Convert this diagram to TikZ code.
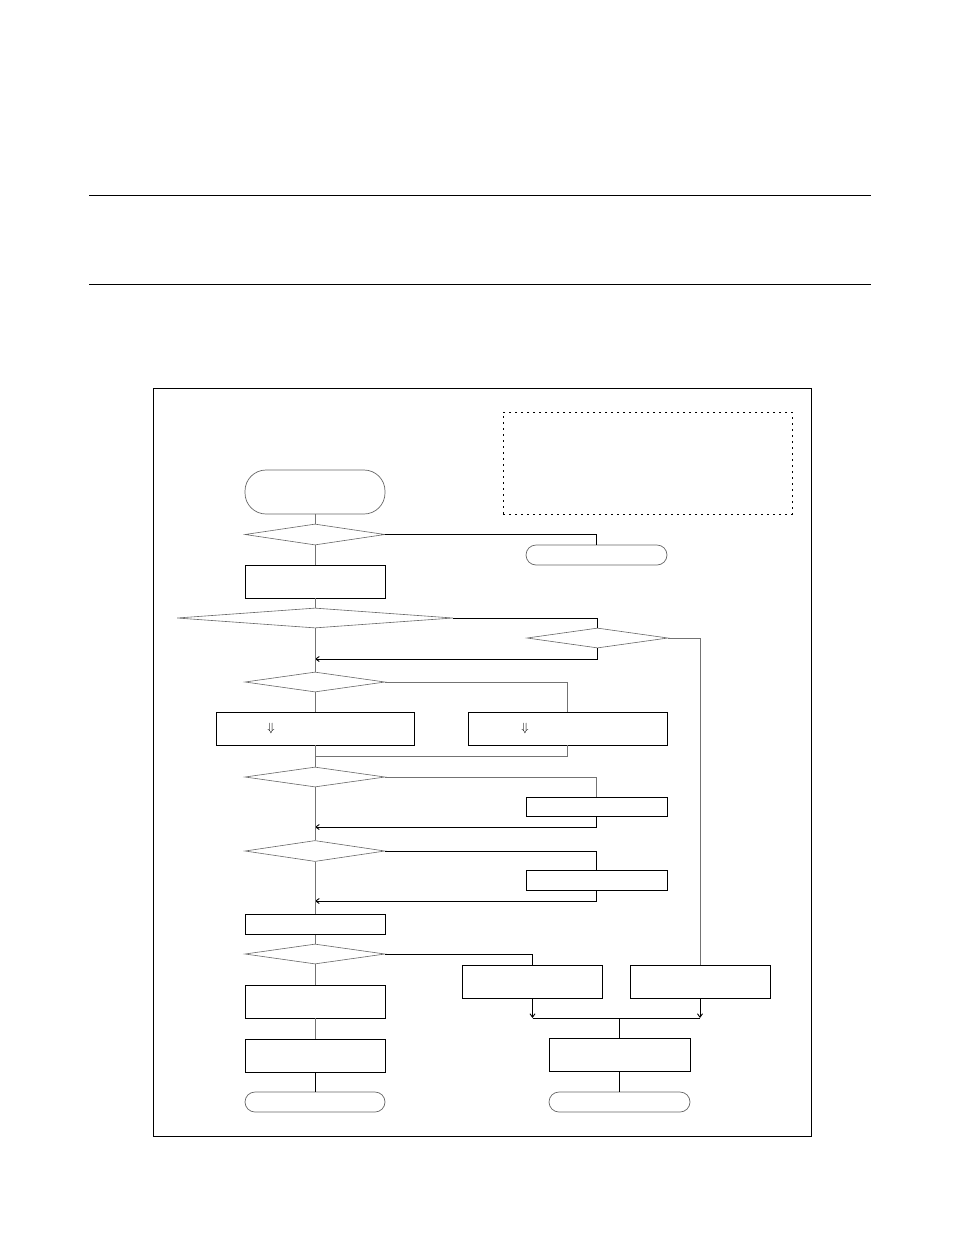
\documentclass[tikz,border=0pt]{standalone}
\usetikzlibrary{shapes.geometric,arrows.meta}
\begin{document}
\begin{tikzpicture}[x=1pt,y=-1pt,
  boxn/.style={draw=black,line width=0.9pt,rectangle,inner sep=0pt},
  termn/.style={draw=black!60,line width=0.7pt,rectangle,inner sep=0pt,rounded corners=10pt},
  decn/.style={draw=black!60,line width=0.6pt,diamond,inner sep=0pt},
  gline/.style={draw=black!55,line width=0.8pt},
  bline/.style={draw=black,line width=0.9pt},
  arr/.style={-{Straight Barb[length=3.5pt,width=5pt]}},
  rule/.style={draw=black,line width=0.8pt}]
\useasboundingbox[fill=white] (0,0) rectangle (954,1235);
% page rules and frame
\coordinate (r1a) at (89,195); \coordinate (r1b) at (871,195);
\coordinate (r2a) at (89,284); \coordinate (r2b) at (871,284);
\draw[rule] (r1a) -- (r1b);
\draw[rule] (r2a) -- (r2b);
\node[draw=black,line width=0.9pt,rectangle,inner sep=0pt,minimum width=658pt,minimum height=748pt] (frame) at (482,762) {};
\node[draw=black,line width=0.9pt,dash pattern=on 2pt off 4pt,rectangle,inner sep=0pt,minimum width=289pt,minimum height=102pt] (note) at (647.5,463) {};
% nodes
\node[termn,rounded corners=21pt,minimum width=140pt,minimum height=44pt] (start) at (315,492) {};
\node[decn,minimum width=140pt,minimum height=21pt] (d1) at (315,534.5) {};
\node[termn,minimum width=141pt,minimum height=20pt] (t1) at (596.5,555) {};
\node[boxn,minimum width=140pt,minimum height=33pt] (b1) at (315,581.5) {};
\node[decn,minimum width=276pt,minimum height=20pt] (d2) at (315,618) {};
\node[decn,minimum width=141pt,minimum height=20pt] (d3) at (597.5,638) {};
\node[decn,minimum width=140pt,minimum height=20pt] (d4) at (315,682) {};
\node[boxn,minimum width=198pt,minimum height=33pt] (bL) at (315,728.5) {};
\node[boxn,minimum width=199pt,minimum height=33pt] (bR) at (567.5,728.5) {};
\node[inner sep=0pt,font=\large] (aL) at (271,728) {$\Downarrow$};
\node[inner sep=0pt,font=\large] (aR) at (525,728) {$\Downarrow$};
\node[decn,minimum width=140pt,minimum height=20pt] (d5) at (315,777) {};
\node[boxn,minimum width=141pt,minimum height=19pt] (b5) at (596.5,806.5) {};
\node[decn,minimum width=140pt,minimum height=21pt] (d6) at (315,851) {};
\node[boxn,minimum width=141pt,minimum height=20pt] (b6) at (596.5,880) {};
\node[boxn,minimum width=140pt,minimum height=20pt] (b7) at (315,924.5) {};
\node[decn,minimum width=140pt,minimum height=20pt] (d7) at (315,954) {};
\node[boxn,minimum width=140pt,minimum height=33pt] (bA) at (532.5,981.5) {};
\node[boxn,minimum width=140pt,minimum height=33pt] (bB) at (700,981.5) {};
\node[boxn,minimum width=140pt,minimum height=33pt] (bD) at (315,1001.5) {};
\node[boxn,minimum width=140pt,minimum height=33pt] (bE) at (315,1055.5) {};
\node[boxn,minimum width=141pt,minimum height=33pt] (bC) at (619.5,1054.5) {};
\node[termn,minimum width=140pt,minimum height=20pt] (tL) at (315,1102) {};
\node[termn,minimum width=141pt,minimum height=20pt] (tR) at (619.5,1102) {};
% junction coordinates
\coordinate (c1) at (315,659);
\coordinate (c2) at (315,756);
\coordinate (c3) at (315,827);
\coordinate (c4) at (315,901);
\coordinate (jA) at (532.5,1018);
\coordinate (jB) at (700,1018);
% connectors
\draw[gline] (start.south) -- (d1.north);
\draw[bline] (d1.east) -| (t1.north);
\draw[gline] (d1.south) -- (b1.north);
\draw[gline] (b1.south) -- (d2.north);
\draw[bline] (d2.east) -| (d3.north);
\draw[bline,arr] (d3.south) |- (c1);
\draw[gline,line width=0.6pt] (d3.east) -| (bB.north);
\draw[gline] (d2.south) -- (d4.north);
\draw[gline] (d4.east) -| (bR.north);
\draw[gline] (d4.south) -- (bL.north);
\draw[gline] (bR.south) |- (c2);
\draw[gline] (bL.south) -- (d5.north);
\draw[gline] (d5.east) -| (b5.north);
\draw[bline,arr] (b5.south) |- (c3);
\draw[gline] (d5.south) -- (d6.north);
\draw[bline] (d6.east) -| (b6.north);
\draw[bline,arr] (b6.south) |- (c4);
\draw[gline] (d6.south) -- (b7.north);
\draw[gline] (b7.south) -- (d7.north);
\draw[bline] (d7.east) -| (bA.north);
\draw[gline] (d7.south) -- (bD.north);
\draw[gline] (bD.south) -- (bE.north);
\draw[bline] (bE.south) -- (tL.north);
\draw[bline,arr] (bA.south) -- (jA);
\draw[bline,arr] (bB.south) -- (jB);
\draw[bline] (jA) -- (jB);
\draw[bline] (bC.north |- jA) -- (bC.north);
\draw[bline] (bC.south) -- (tR.north);
\end{tikzpicture}
\end{document}
